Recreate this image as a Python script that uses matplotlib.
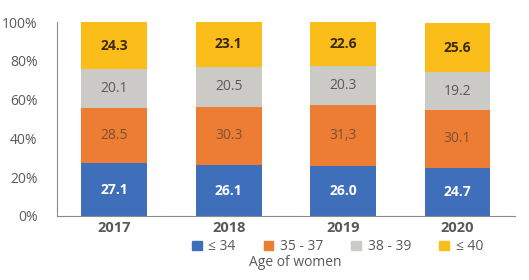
import numpy as np
import matplotlib.pyplot as plt
from matplotlib.patches import Patch

plt.rcParams['font.family'] = ['Open Sans', 'DejaVu Sans']

years = ['2017', '2018', '2019', '2020']
groups = ['\u2264 34', '35 - 37', '38 - 39', '\u2264 40']
values = [
    [27.1, 26.1, 26.0, 24.7],
    [28.5, 30.3, 31.3, 30.1],
    [20.1, 20.5, 20.3, 19.2],
    [24.3, 23.1, 22.6, 25.6],
]
labels = [
    ['27.1', '26.1', '26.0', '24.7'],
    ['28.5', '30.3', '31,3', '30.1'],
    ['20.1', '20.5', '20.3', '19.2'],
    ['24.3', '23.1', '22.6', '25.6'],
]
colors = ['#3f6fba', '#ec7d33', '#cbcac7', '#fbbd19']
text_colors = ['white', '#7a5236', '#5a5a5a', '#3b2a05']
weights = ['bold', 'normal', 'normal', 'bold']

fig = plt.figure(figsize=(5.29, 2.8), dpi=100)
ax = fig.add_axes([0.108, 0.229, 0.865, 0.692])

x = np.arange(len(years))
bottom = np.zeros(len(years))
for i in range(len(groups)):
    ax.bar(x, values[i], 0.576, bottom=bottom, color=colors[i], label=groups[i])
    for j in range(len(years)):
        ax.text(x[j], bottom[j] + values[i][j] / 2, labels[i][j], ha='center', va='center',
                fontsize=10, color=text_colors[i], fontweight=weights[i])
    bottom += values[i]

ax.set_xlim(-0.5, 3.5)
ax.set_ylim(0, 100)
ax.set_yticks([0, 20, 40, 60, 80, 100])
ax.set_yticklabels(['0%', '20%', '40%', '60%', '80%', '100%'])
ax.set_xticks(x)
ax.set_xticklabels(years, fontweight='bold', fontsize=10.5)
ax.tick_params(length=0, colors='#595959')
ax.tick_params(axis='y', pad=14, labelsize=10)
ax.tick_params(axis='x', pad=4)
for s in ['top', 'right']:
    ax.spines[s].set_visible(False)
ax.spines['left'].set_color('#8c8c8c')
ax.spines['bottom'].set_color('#8c8c8c')

handles = [Patch(color=c) for c in colors]
fig.legend(handles, groups, loc='center', bbox_to_anchor=(0.638, 0.118), ncol=4, frameon=False,
           fontsize=10, handlelength=0.7, handleheight=0.7, handletextpad=0.5, columnspacing=2.0,
           labelcolor='#595959')
fig.text(0.558, 0.061, 'Age of women', ha='center', va='center', fontsize=10, color='#595959')

fig.savefig('out.png', dpi=100)
